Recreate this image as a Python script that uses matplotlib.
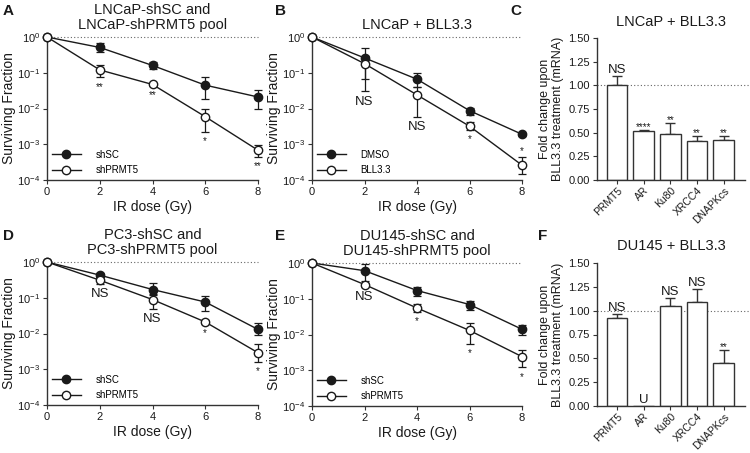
import numpy as np
import matplotlib
matplotlib.use("Agg")
import matplotlib.pyplot as plt
from matplotlib.ticker import LogLocator, NullLocator

plt.rcParams["font.family"] = ["Liberation Sans", "DejaVu Sans"]
plt.rcParams["font.size"] = 8

# =============================================================================
# DATA
# =============================================================================

dose = [0, 2, 4, 6, 8]

# A - LNCaP shSC / shPRMT5
a_ctrl = [1.0, 0.51, 0.16, 0.045, 0.021]
a_ctrl_lo = [1.0, 0.39, 0.13, 0.018, 0.010]
a_ctrl_hi = [1.0, 0.66, 0.20, 0.074, 0.033]
a_trt = [1.0, 0.12, 0.047, 0.0059, 0.00068]
a_trt_lo = [1.0, 0.074, 0.043, 0.0022, 0.00045]
a_trt_hi = [1.0, 0.165, 0.051, 0.0096, 0.00095]
a_sig = ["", "**", "**", "*", "**"]

# B - LNCaP DMSO / BLL3.3
b_ctrl = [1.0, 0.26, 0.066, 0.0087, 0.0019]
b_ctrl_lo = [1.0, 0.067, 0.041, 0.0066, 0.0017]
b_ctrl_hi = [1.0, 0.48, 0.10, 0.0105, 0.0021]
b_trt = [1.0, 0.18, 0.024, 0.0032, 0.00026]
b_trt_lo = [1.0, 0.030, 0.0059, 0.0025, 0.00015]
b_trt_hi = [1.0, 0.30, 0.039, 0.0042, 0.00044]
b_sig = ["", "NS", "NS", "*", "*"]

# D - PC3 shSC / shPRMT5
d_ctrl = [1.0, 0.43, 0.17, 0.076, 0.013]
d_ctrl_lo = [1.0, 0.38, 0.12, 0.042, 0.0093]
d_ctrl_hi = [1.0, 0.48, 0.26, 0.11, 0.020]
d_trt = [1.0, 0.31, 0.089, 0.021, 0.0029]
d_trt_lo = [1.0, 0.25, 0.050, 0.018, 0.0016]
d_trt_hi = [1.0, 0.37, 0.13, 0.024, 0.0052]
d_sig = ["", "NS", "NS", "*", "*"]

# E - DU145 shSC / shPRMT5
e_ctrl = [1.0, 0.61, 0.17, 0.069, 0.014]
e_ctrl_lo = [1.0, 0.31, 0.117, 0.047, 0.010]
e_ctrl_hi = [1.0, 0.94, 0.22, 0.089, 0.019]
e_trt = [1.0, 0.25, 0.055, 0.013, 0.0024]
e_trt_lo = [1.0, 0.22, 0.043, 0.0055, 0.0012]
e_trt_hi = [1.0, 0.28, 0.072, 0.021, 0.0036]
e_sig = ["", "NS", "*", "*", "*"]

genes = ["PRMT5", "AR", "Ku80", "XRCC4", "DNAPKcs"]

# C - LNCaP + BLL3.3 mRNA
c_fold = [1.00, 0.52, 0.49, 0.41, 0.42]
c_err = [0.10, 0.01, 0.11, 0.05, 0.04]
c_sig = ["NS", "****", "**", "**", "**"]

# F - DU145 + BLL3.3 mRNA
f_fold = [0.92, 0.0, 1.05, 1.09, 0.45]
f_err = [0.04, 0.0, 0.08, 0.14, 0.14]
f_sig = ["NS", "U", "NS", "NS", "**"]

# =============================================================================
# FIGURE
# =============================================================================

W, H = 750, 453
fig = plt.figure(figsize=(7.5, 4.53), dpi=100)
INK = "#1a1a1a"


def px_axes(x0, y0, x1, y1):
    """axes from pixel box (left, top, right, bottom)"""
    return fig.add_axes([x0 / W, 1 - y1 / H, (x1 - x0) / W, (y1 - y0) / H])


def style_spines(ax):
    for s in ["top", "right"]:
        ax.spines[s].set_visible(False)
    for s in ["left", "bottom"]:
        ax.spines[s].set_linewidth(1.0)
        ax.spines[s].set_color("#333333")
    ax.tick_params(direction="out", length=3, width=0.8, colors="#333333",
                   labelcolor=INK, labelsize=8, pad=2)


def survival_panel(ax, ctrl, clo, chi, trt, tlo, thi, sig, labels, title,
                   above=()):
    ax.axhline(1.0, color="#666666", lw=0.8, ls=(0, (1, 2)), zorder=0,
               clip_on=False)
    for y, lo, hi, face, lab in [(ctrl, clo, chi, INK, labels[0]),
                                 (trt, tlo, thi, "white", labels[1])]:
        y = np.array(y)
        yerr = [y - np.array(lo), np.array(hi) - y]
        ax.errorbar(dose, y, yerr=yerr, fmt="none", ecolor=INK, elinewidth=0.9,
                    capsize=3, capthick=0.9, clip_on=False, zorder=2)
        ax.plot(dose, y, "-o", color=INK, lw=1.0, ms=6, mfc=face, mec=INK,
                mew=1.0, clip_on=False, zorder=3, label=lab)
    for i, s in enumerate(sig):
        if not s:
            continue
        fs = 9.5 if s == "NS" else 7
        if i in above:
            ax.annotate(s, (dose[i], thi[i]), xytext=(0, 1),
                        textcoords="offset points", ha="center", va="bottom",
                        fontsize=fs, color=INK)
        else:
            ax.annotate(s, (dose[i], tlo[i]), xytext=(0, -3),
                        textcoords="offset points", ha="center", va="top",
                        fontsize=fs, color=INK)
    ax.set_yscale("log")
    ax.set_ylim(1e-4, 1)
    ax.set_xlim(0, 8)
    ax.yaxis.set_major_locator(LogLocator(base=10, numticks=6))
    ax.yaxis.set_minor_locator(NullLocator())
    ax.set_xticks(dose)
    style_spines(ax)
    ax.set_ylabel("Surviving Fraction", fontsize=10, color=INK, labelpad=1)
    ax.set_xlabel("IR dose (Gy)", fontsize=10, color=INK, labelpad=2)
    ax.set_title(title, fontsize=10.5, color=INK, pad=6, linespacing=1.1)
    ax.legend(loc="lower left", frameon=False, fontsize=7, handlelength=3,
              borderaxespad=0.1, labelspacing=0.55, handletextpad=1.5,
              bbox_to_anchor=(0.0, 0.0))


def bar_panel(ax, vals, errs, sig, title):
    x = np.arange(len(genes))
    ax.axhline(1.0, color="#666666", lw=0.8, ls=(0, (1, 2)), zorder=0,
               xmax=1.05, clip_on=False)
    ax.bar(x, vals, width=0.78, color="white", edgecolor="#333333",
           linewidth=1.0, zorder=2)
    v = np.array(vals)
    e = np.array(errs)
    has = e > 0
    ax.errorbar(x[has], v[has], yerr=[np.zeros(has.sum()), e[has]], fmt="none",
                ecolor="#333333", elinewidth=1.0, capsize=3.5, capthick=1.0,
                zorder=1)
    for i, s in enumerate(sig):
        top = v[i] + e[i]
        ax.annotate(s, (x[i], top), xytext=(0, -1.5 if "*" in s else 0),
                    textcoords="offset points", ha="center", va="bottom",
                    fontsize=7 if "*" in s else 9.5, color=INK)
    ax.set_ylim(0, 1.5)
    ax.set_xlim(-0.75, 4.8)
    ax.set_yticks([0, 0.25, 0.5, 0.75, 1.0, 1.25, 1.5],
                  ["0.00", "0.25", "0.50", "0.75", "1.00", "1.25", "1.50"])
    ax.set_xticks(x, genes, rotation=45, ha="right", rotation_mode="anchor")
    style_spines(ax)
    ax.tick_params(axis="x", length=3, pad=1, labelsize=7.5)
    ax.set_ylabel("Fold change upon\nBLL3.3 treatment (mRNA)", fontsize=9,
                  color=INK, labelpad=3, linespacing=1.1)
    ax.set_title(title, fontsize=10.5, color=INK, pad=9)


ax_a = px_axes(47, 37, 258, 180)
ax_b = px_axes(312, 37, 522, 180)
ax_c = px_axes(597, 38, 745, 180)
ax_d = px_axes(47, 262, 258, 405)
ax_e = px_axes(312, 263, 522, 406)
ax_f = px_axes(597, 263, 745, 406)

survival_panel(ax_a, a_ctrl, a_ctrl_lo, a_ctrl_hi, a_trt, a_trt_lo, a_trt_hi,
               a_sig, ["shSC", "shPRMT5"],
               "LNCaP-shSC and\nLNCaP-shPRMT5 pool")
survival_panel(ax_b, b_ctrl, b_ctrl_lo, b_ctrl_hi, b_trt, b_trt_lo, b_trt_hi,
               b_sig, ["DMSO", "BLL3.3"], "LNCaP + BLL3.3", above=(4,))
survival_panel(ax_d, d_ctrl, d_ctrl_lo, d_ctrl_hi, d_trt, d_trt_lo, d_trt_hi,
               d_sig, ["shSC", "shPRMT5"],
               "PC3-shSC and\nPC3-shPRMT5 pool")
survival_panel(ax_e, e_ctrl, e_ctrl_lo, e_ctrl_hi, e_trt, e_trt_lo, e_trt_hi,
               e_sig, ["shSC", "shPRMT5"],
               "DU145-shSC and\nDU145-shPRMT5 pool")
bar_panel(ax_c, c_fold, c_err, c_sig, "LNCaP + BLL3.3")
bar_panel(ax_f, f_fold, f_err, f_sig, "DU145 + BLL3.3")

# panel letters
for lab, (px, py) in {"A": (3, 11), "B": (275, 11), "C": (510, 11),
                      "D": (3, 236), "E": (275, 236), "F": (538, 236)}.items():
    fig.text(px / W, 1 - py / H, lab, fontsize=11, fontweight="bold",
             color=INK, ha="left", va="center")

fig.savefig("out.png", dpi=100)
